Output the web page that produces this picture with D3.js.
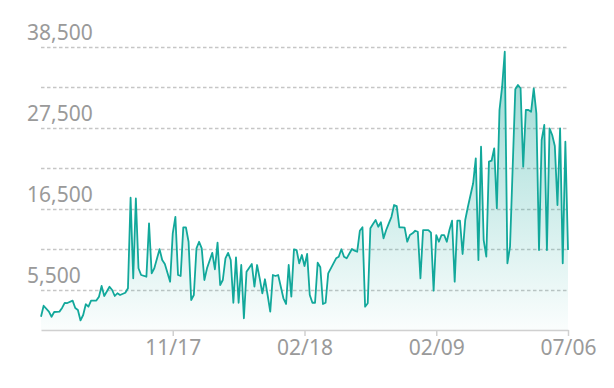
<!DOCTYPE html>
<html><head><meta charset="utf-8">
<script src="https://cdn.jsdelivr.net/npm/d3@7/dist/d3.min.js"></script>
<style>
html,body{margin:0;padding:0;background:#fff;}
svg{display:block;}
</style></head>
<body>
<svg id="chart" width="614" height="388"></svg>
<script>
const days = [0,1,3,4,5,7,8,9,10,12,13,14,15,16,17,18,19,21,22,23,24,26,27,28,29,30,32,33,34,35,36,37,38,40,41,42,43,45,46,47,49,50,51,52,53,54,55,56,57,58,59,60,61,62,63,65,66,67,68,69,70,71,72,73,74,75,76,77,78,80,81,82,83,84,85,86,87,88,89,90,92,93,94,95,96,97,98,99,100,101,102,103,104,105,106,107,108,109,111,112,113,114,115,116,118,119,120,121,122,123,124,125,126,127,128,129,130,131,132,133,134,135,136,137,138,139,140,141,142,143,144,145,147,148,149,150,151,152,153,154,155,156,157,158,159,160,161,162,164,165,166,167,168,169,170,171,172,173,174,175,176,177,178,180,181,182,183,184,185,186,187,188,189,190,191,192,193,194,195,196,197,198,199,200];
const values = [1800,3300,2500,1800,2450,2500,3000,3700,3670,4000,3000,2720,1300,2040,3500,3170,4000,4000,4530,6000,4625,5890,5440,4625,5000,4760,5070,5670,18000,7030,17900,8400,7480,7250,14500,7710,8400,11000,9520,8980,6570,13150,15400,7480,7350,13970,13970,12010,4080,4760,11110,12010,11110,6800,8390,10500,8260,11880,6120,6800,9750,10500,9520,3710,9890,3710,8840,1590,7930,8980,5890,8840,7030,4990,6900,4760,2490,7480,7350,7480,4310,3540,8840,4530,10980,10880,9070,10200,8710,10340,4760,3710,3710,9150,8530,3540,3710,7710,9070,9750,9970,10980,9970,9750,11020,10790,10650,13500,13970,3170,3630,13830,14420,14960,14050,14650,12480,13600,14500,15400,17000,16870,13970,13970,13920,12010,12920,13150,13500,13370,7030,13600,13600,13240,5350,12920,12010,12920,12920,12010,13600,14870,6570,14870,14870,10340,14960,16730,19960,23360,9520,24940,12240,9970,22900,23030,24720,16560,29930,33100,37860,9070,11330,32750,33330,32880,22220,29930,29930,29700,32880,29480,10880,25850,27890,10880,27440,26530,25030,17000,27440,9070,25620,10880];
const gridValues = [5500,11000,16500,22000,27500,33000,38500];
const yTickLabels = [5500,16500,27500,38500];
const xTickDays = [50,100,150,200];
const xTickLabels = ["11/17","02/18","02/09","07/06"];

const svg = d3.select("#chart");
const mLeft = 41, mRight = 568, mTop = 47, mBottom = 330;
const x = d3.scaleLinear().domain([0,200]).range([mLeft,mRight]);
const y = d3.scaleLinear().domain([0,38500]).range([mBottom,mTop]);
const font = "'Noto Sans', 'Open Sans', sans-serif";
const n = Math.min(days.length, values.length);
const data = d3.range(n).map(i=>({d: days[i], v: values[i]}));

const defs = svg.append("defs");
const grad = defs.append("linearGradient").attr("id","fillGrad")
  .attr("gradientUnits","userSpaceOnUse")
  .attr("x1",0).attr("x2",0).attr("y1",y(38500)).attr("y2",y(0));
grad.append("stop").attr("offset","0%").attr("stop-color","#17a89b").attr("stop-opacity",0.45);
grad.append("stop").attr("offset","100%").attr("stop-color","#17a89b").attr("stop-opacity",0.02);

svg.append("g").selectAll("line").data(gridValues).join("line")
  .attr("x1",mLeft).attr("x2",mRight)
  .attr("y1",d=>Math.round(y(d))+0.5).attr("y2",d=>Math.round(y(d))+0.5)
  .attr("stroke","#c6c6c6").attr("stroke-width",1.3).attr("stroke-dasharray","3.5,2.5");

svg.append("g").selectAll("text").data(yTickLabels).join("text")
  .attr("x",27).attr("y",d=>y(d)-7)
  .attr("font-family",font).attr("font-size",21).attr("fill","#9a9a9a")
  .text(d=>d3.format(",")(d));

svg.append("path").datum(data)
  .attr("fill","url(#fillGrad)")
  .attr("d", d3.area().x(d=>x(d.d)).y0(y(0)).y1(d=>y(d.v)));
svg.append("path").datum(data)
  .attr("fill","none").attr("stroke","#12a89b").attr("stroke-width",1.8)
  .attr("stroke-linejoin","round")
  .attr("d", d3.line().x(d=>x(d.d)).y(d=>y(d.v)));

const xAxis = d3.axisBottom(x).tickValues(xTickDays)
  .tickFormat((d,i)=>xTickLabels[i]).tickSize(6).tickSizeOuter(0);
const gx = svg.append("g").attr("transform",`translate(0,${mBottom})`).call(xAxis);
gx.select(".domain").attr("stroke","#d0d0d0").attr("stroke-width",1.5);
gx.selectAll(".tick line").attr("stroke","#d0d0d0").attr("stroke-width",1.5);
gx.selectAll(".tick text").attr("font-family",font).attr("font-size",21)
  .attr("fill","#9a9a9a").attr("dy","0.9em").attr("y",6);
</script>
</body></html>
